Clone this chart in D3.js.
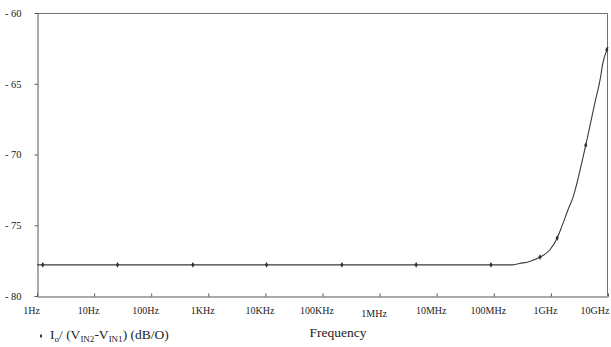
<!DOCTYPE html>
<html>
<head>
<meta charset="utf-8">
<script src="https://cdn.jsdelivr.net/npm/d3@7"></script>
<style>
  body { margin: 0; background: #fff; }
  svg { display: block; }
  text { font-family: "Liberation Serif", "Times New Roman", serif; fill: #222; }
</style>
</head>
<body>
<svg id="chart" width="611" height="347"></svg>
<script>
// ---- data ----
const xTickValues = [1, 1e1, 1e2, 1e3, 1e4, 1e5, 1e6, 1e7, 1e8, 1e9, 1e10];
const xTickLabels = ["1Hz", "10Hz", "100Hz", "1KHz", "10KHz", "100KHz", "1MHz", "10MHz", "100MHz", "1GHz", "10GHz"];
const yTickValues = [-60, -65, -70, -75, -80];
const yTickLabels = ["- 60", "- 65", "- 70", "- 75", "- 80"];

// series: log10(frequency) and gain in dB/Ω
const seriesLogFreq = [0, 1, 2, 3, 4, 5, 6, 7, 8, 8.34, 8.45, 8.60, 8.81, 8.98, 9.11, 9.19, 9.30, 9.39, 9.47, 9.54, 9.61, 9.68, 9.77, 9.86, 9.91, 9.98, 10];
const seriesValues  = [-77.8, -77.8, -77.8, -77.8, -77.8, -77.8, -77.8, -77.8, -77.8, -77.8, -77.7, -77.6, -77.25, -76.75, -75.9, -75.1, -73.9, -73.0, -71.8, -70.6, -69.35, -68.05, -66.35, -64.75, -63.55, -62.6, -62.4];

// marker positions along the series (log10 frequency)
const markerLogFreq = [0.10, 1.41, 2.73, 4.02, 5.34, 6.64, 7.95, 8.81, 9.11, 9.61, 9.98];

const xTitle = "Frequency";

// ---- layout ----
const W = 611, H = 347;
const margin = { top: 13, right: 3, bottom: 51, left: 37 };
const svg = d3.select("#chart");

const x = d3.scaleLog().domain([1, 1e10]).range([margin.left, W - margin.right]);
const y = d3.scaleLinear().domain([-80, -60]).range([H - margin.bottom, margin.top]);

const data = seriesLogFreq.map((lf, i) => ({ f: Math.pow(10, lf), v: seriesValues[i] }));
const interp = (lf) => {
  for (let i = 1; i < seriesLogFreq.length; i++) {
    if (lf <= seriesLogFreq[i]) {
      const t = (lf - seriesLogFreq[i - 1]) / (seriesLogFreq[i] - seriesLogFreq[i - 1]);
      return seriesValues[i - 1] + t * (seriesValues[i] - seriesValues[i - 1]);
    }
  }
  return seriesValues[seriesValues.length - 1];
};

// frame (top and right)
svg.append("path")
  .attr("d", `M${x.range()[0]},${y.range()[1] + 0.5}H${x.range()[1] - 0.5}V${y.range()[0]}`)
  .attr("fill", "none").attr("stroke", "#707070").attr("stroke-width", 1);

// x axis
const xAxis = d3.axisBottom(x)
  .tickValues(xTickValues)
  .tickFormat((d, i) => xTickLabels[i])
  .tickSizeInner(-3).tickSizeOuter(0).tickPadding(10);
const gx = svg.append("g")
  .attr("transform", `translate(0,${y.range()[0] + 0.5})`)
  .call(xAxis);
gx.select(".domain").attr("stroke", "#555");
gx.selectAll(".tick line").attr("stroke", "#555");
gx.selectAll(".tick text")
  .attr("font-size", 10)
  .attr("fill", "#222")
  .attr("dx", -6)
  .attr("dy", (d) => d === 1e6 ? "1em" : "0.71em");
// keep the last label inside the picture
gx.selectAll(".tick text").each(function () {
  const b = this.getBBox();
  const m = this.parentNode.transform.baseVal.consolidate().matrix;
  const right = m.e + b.x + b.width;
  if (right > W - 1) {
    d3.select(this).attr("dx", -6 - (right - (W - 1)));
  }
});

// y axis
const yAxis = d3.axisLeft(y)
  .tickValues(yTickValues)
  .tickFormat((d, i) => yTickLabels[i])
  .tickSizeInner(3).tickSizeOuter(0).tickPadding(13);
const gy = svg.append("g")
  .attr("transform", `translate(${x.range()[0] + 0.5},0)`)
  .call(yAxis);
gy.select(".domain").attr("stroke", "#555");
gy.selectAll(".tick line").attr("stroke", "#555");
gy.selectAll(".tick text")
  .attr("font-size", 10.5)
  .attr("fill", "#222");

// series line
svg.append("path")
  .datum(data)
  .attr("d", d3.line().x(d => x(d.f)).y(d => y(d.v)).curve(d3.curveMonotoneX))
  .attr("fill", "none")
  .attr("stroke", "#3a3a3a")
  .attr("stroke-width", 1.1);

// markers
svg.append("g").selectAll("path")
  .data(markerLogFreq)
  .join("path")
  .attr("transform", lf => `translate(${x(Math.pow(10, lf))},${y(interp(lf))})`)
  .attr("d", d3.symbol().type(d3.symbolDiamond).size(9))
  .attr("fill", "#333");

// legend
const lg = svg.append("text")
  .attr("x", 50).attr("y", 339)
  .attr("font-size", 13.5);
lg.append("tspan").text("I");
lg.append("tspan").attr("font-size", 9).attr("dy", 3).text("o");
lg.append("tspan").attr("dy", -3).text("/ (V");
lg.append("tspan").attr("font-size", 9).attr("dy", 3).text("IN2");
lg.append("tspan").attr("dy", -3).text("-V");
lg.append("tspan").attr("font-size", 9).attr("dy", 3).text("IN1");
lg.append("tspan").attr("dy", -3).text(") (dB/O)");
svg.append("path")
  .attr("transform", `translate(41,${336})`)
  .attr("d", d3.symbol().type(d3.symbolDiamond).size(6))
  .attr("fill", "#333");

// x title
svg.append("text")
  .attr("x", 338).attr("y", 337)
  .attr("text-anchor", "middle")
  .attr("font-size", 13.5)
  .text(xTitle);
</script>
</body>
</html>
